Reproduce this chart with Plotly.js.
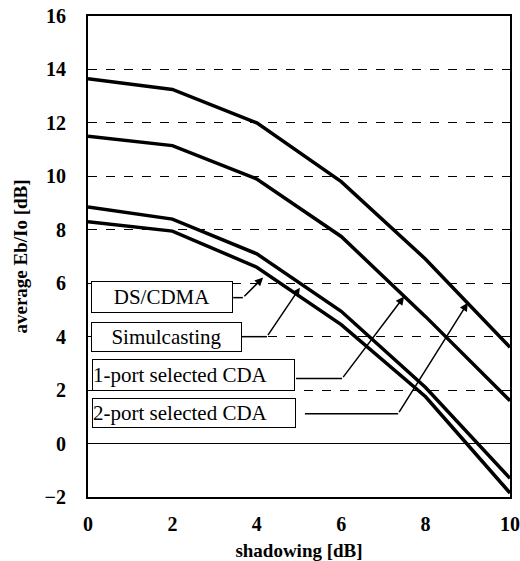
<!DOCTYPE html>
<html>
<head>
<meta charset="utf-8">
<script src="https://cdn.plot.ly/plotly-3.0.1.min.js"></script>
<style>html,body{margin:0;padding:0;background:#fff;}#chart{width:520px;height:561px;}</style>
</head>
<body>
<div id="chart"></div>
<script>
// shadowing [dB]
const shadowing = [0, 2, 4, 6, 8, 10];
// average Eb/Io [dB] per scheme
const port2CDA = [13.65, 13.25, 12.0, 9.8, 6.9, 3.6];
const port1CDA = [11.5, 11.15, 9.9, 7.75, 4.75, 1.6];
const simulcasting = [8.85, 8.4, 7.1, 4.95, 2.1, -1.3];
const dsCdma = [8.3, 7.95, 6.6, 4.45, 1.75, -1.85];

const seriesNames = ["DS/CDMA", "Simulcasting", "1-port selected CDA", "2-port selected CDA"];
const seriesValues = [dsCdma, simulcasting, port1CDA, port2CDA];

// label box positions (left x, centre y) and arrow paths: [startX, bendX, y, tipX, tipY]
const labelPos = [[0.07, 5.50], [0.07, 4.0], [0.09, 2.58], [0.09, 1.16]];
const labelSize = [[140, 30], [149, 28], [201, 30], [202, 28]];
const arrowPaths = [
  [3.44, 3.67, 5.46, 4.15, 6.21],
  [3.65, 4.24, 4.0, 5.02, 5.83],
  [4.93, 6.02, 2.43, 7.49, 5.5],
  [5.14, 7.35, 1.12, 9.0, 5.27]
];

const serif = "Liberation Serif, Times New Roman, serif";

const traces = seriesNames.map((n, i) => ({
  x: shadowing, y: seriesValues[i], name: n, type: 'scatter', mode: 'lines',
  line: {color: '#000', width: 3.5}, showlegend: false, hoverinfo: 'x+y+name'
}));

const annotations = [];
const shapes = [];
seriesNames.forEach((n, i) => {
  annotations.push({
    x: labelPos[i][0], y: labelPos[i][1], xref: 'x', yref: 'y',
    xanchor: 'left', yanchor: 'middle', text: n, showarrow: false,
    font: {family: serif, size: 21, color: '#000'},
    width: labelSize[i][0], height: labelSize[i][1],
    align: i < 2 ? 'center' : 'left', valign: 'middle',
    bordercolor: '#000', borderwidth: 1, borderpad: 0, bgcolor: '#fff'
  });
  const a = arrowPaths[i];
  shapes.push({type: 'line', xref: 'x', yref: 'y', x0: a[0], x1: a[1], y0: a[2], y1: a[2],
    line: {color: '#000', width: 1.5}});
  annotations.push({
    x: a[3], y: a[4], ax: a[1], ay: a[2], axref: 'x', ayref: 'y', xref: 'x', yref: 'y',
    text: '', showarrow: true, arrowhead: 2, arrowsize: 1.1, arrowwidth: 1.5, arrowcolor: '#000'
  });
});

const layout = {
  width: 520, height: 561,
  margin: {l: 88, r: 10, t: 16, b: 64},
  paper_bgcolor: '#fff', plot_bgcolor: '#fff',
  font: {family: serif, color: '#000'},
  xaxis: {
    range: [0, 10], tickvals: [0, 2, 4, 6, 8, 10], ticks: '', showgrid: false, zeroline: false,
    showline: true, linecolor: '#000', linewidth: 2, mirror: true,
    tickfont: {family: serif, size: 20, color: '#000', weight: 'bold'},
    ticklabelstandoff: 8,
    title: {text: 'shadowing [dB]', font: {family: serif, size: 19, color: '#000', weight: 'bold'}, standoff: 14}
  },
  yaxis: {
    range: [-2, 16], tickvals: [-2, 0, 2, 4, 6, 8, 10, 12, 14, 16], ticks: '',
    showgrid: true, gridcolor: '#000', griddash: 'dash', gridwidth: 1,
    zeroline: true, zerolinecolor: '#000', zerolinewidth: 1.5,
    showline: true, linecolor: '#000', linewidth: 2, mirror: true,
    tickfont: {family: serif, size: 20, color: '#000', weight: 'bold'},
    ticklabelstandoff: 16,
    title: {text: 'average Eb/Io [dB]', font: {family: serif, size: 19, color: '#000', weight: 'bold'}, standoff: 12}
  },
  annotations: annotations,
  shapes: shapes
};

Plotly.newPlot('chart', traces, layout, {displayModeBar: false, staticPlot: true});
</script>
</body>
</html>
